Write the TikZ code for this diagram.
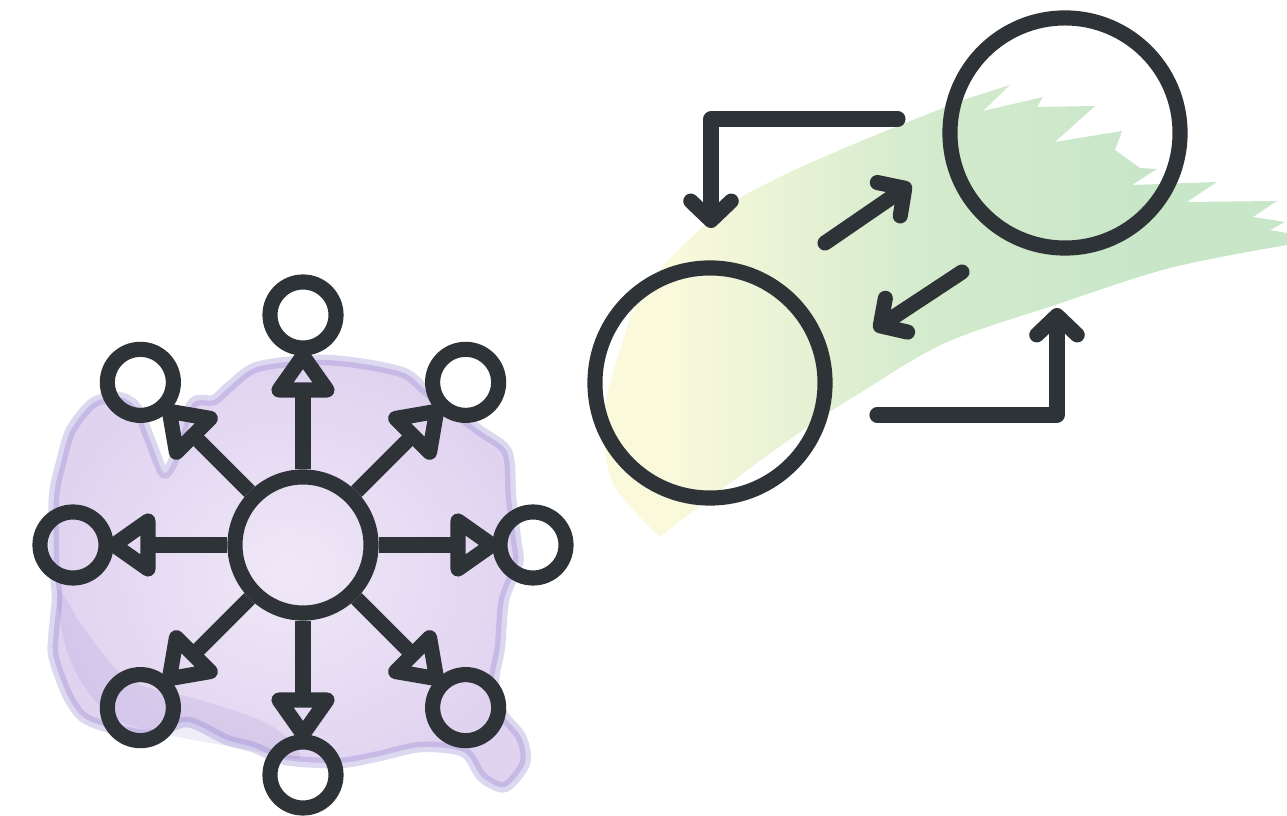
\documentclass[tikz,border=0pt]{standalone}
\usepackage{tikz}
\usetikzlibrary{arrows.meta}

\definecolor{ink}{RGB}{46,51,56}
\definecolor{lilaclight}{RGB}{240,232,248}
\definecolor{lilac}{RGB}{224,211,240}
\definecolor{lilacedge}{RGB}{140,125,205}
\definecolor{washyellow}{RGB}{250,249,220}
\definecolor{washgreen}{RGB}{200,230,200}
\pgfdeclarehorizontalshading{brushwash}{100bp}{color(0bp)=(washyellow!85!yellow); color(10bp)=(washyellow); color(30bp)=(washyellow); color(48bp)=(washgreen!75!washyellow); color(65bp)=(washgreen); color(100bp)=(washgreen)}

\begin{document}
\begin{tikzpicture}[x=0.01cm,y=-0.01cm]
    % Define parameters
    \def\inkwidth{4.3pt}
    \def\spokelen{230}
    \def\tribase{155}
    \def\tritip{189}
    \def\trihalf{24}
    \tikzset{
        hub/.style={circle,draw=ink,line width=\inkwidth,minimum size=1.36cm,inner sep=0pt},
        leaf/.style={circle,draw=ink,line width=\inkwidth,minimum size=0.66cm,inner sep=0pt},
        stage/.style={circle,draw=ink,line width=\inkwidth,minimum size=2.3cm,inner sep=0pt},
        spoke/.style={draw=ink,line width=\inkwidth},
        tri/.style={draw=ink,line width=\inkwidth,line join=round},
        flow/.style={ink,line width=\inkwidth,line cap=round,line join=round,-{Straight Barb[round,length=5.5pt,width=11.5pt]}}
    }
    \useasboundingbox (0,0) rectangle (1287,816);

% Purple wash behind the hub
    \def\blob{(229,387) (257,367) (314,360) (357,363) (404,373) (429,393) (479,430) (507,452) (511,497) (516,540) (518,563) (504,600) (500,647) (494,682) (502,713) (521,737) (525,763) (505,787) (482,777) (464,752) (421,747) (375,757) (339,763) (286,760) (253,747) (227,740) (187,722) (150,735) (107,727) (83,717) (70,700) (60,677) (53,653) (54,630) (57,597) (54,560) (54,497) (61,463) (71,430) (93,403) (118,397) (136,407) (150,440) (164,473) (175,457) (179,440) (193,403) (214,400)}
    \path[shade,inner color=lilaclight,outer color=lilac]
        plot[smooth cycle,tension=0.5] coordinates {\blob};
    \fill[lilacedge,opacity=0.14]
        plot[smooth cycle,tension=0.6] coordinates {(58,590) (70,660) (110,715) (170,735) (240,748) (300,758) (270,725) (200,700) (130,680) (85,630)};
    \draw[lilacedge,line width=3pt,opacity=0.3]
        plot[smooth cycle,tension=0.5] coordinates {\blob};

% Green wash behind the loop
    \shade[shading=brushwash]
        plot[smooth,tension=0.55] coordinates {(660,537) (613,483) (604,417) (620,350) (647,285) (720,212) (780,177) (847,147) (913,120) (963,100)}
        -- (1010,85) -- (983,111) -- (1043,97) -- (1037,107) -- (1095,106) -- (1055,142) -- (1122,131) -- (1115,150)
        -- (1140,168) -- (1157,169) -- (1132,185) -- (1217,182) -- (1187,202) -- (1277,201) -- (1253,217)
        -- (1285,222) -- (1270,230) -- (1287,233) -- (1287,245)
        -- plot[smooth,tension=0.55] coordinates {(1287,245) (1170,268) (1055,305) (945,343) (860,393) (813,423) (730,483) (660,537)}
        -- cycle;

% Hub with eight leaves
\begin{scope}[shift={(303,545)}]
    \node[hub] (hub) at (0,0) {};
    \foreach \a in {0,45,...,315} {
    \begin{scope}[rotate=-\a]
        \node[leaf] (leaf\a) at (\spokelen,0) {};
        \coordinate (base\a) at (\tribase,0);
        \draw[spoke] (hub) -- (base\a);
        \draw[tri] (\tribase,-\trihalf) -- (\tritip,0) -- (\tribase,\trihalf) -- cycle;
    \end{scope}
    }
\end{scope}

% Two stages with loop arrows
    \node[stage] (src) at (710,383) {};
    \node[stage] (dst) at (1065,133) {};

    \coordinate (topstart) at (898,119);
    \coordinate (topend) at (711,228);
    \coordinate (botstart) at (877,415);
    \coordinate (botend) at (1057,308);
    \coordinate (fwdstart) at (825,243);
    \coordinate (fwdend) at (911,184);
    \coordinate (backstart) at (962,272);
    \coordinate (backend) at (874,330);

    \draw[flow] (topstart) -| (topend);
    \draw[flow] (fwdstart) -- (fwdend);
    \draw[flow] (backstart) -- (backend);
    \draw[flow] (botstart) -| (botend);

\end{tikzpicture}
\end{document}
